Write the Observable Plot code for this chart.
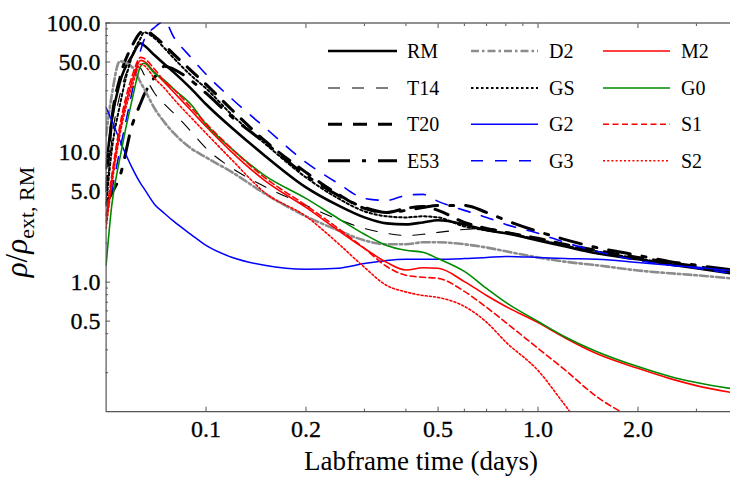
<!DOCTYPE html>
<html><head><meta charset="utf-8">
<script src="https://cdn.jsdelivr.net/npm/d3@7"></script>
<script src="https://cdn.jsdelivr.net/npm/@observablehq/plot@0.6"></script>
<style>html,body{margin:0;padding:0;background:#fff;overflow:hidden}</style>
</head><body><div id="chart"></div>
<script>
// Labframe time (days)
const t = [0.05, 0.052, 0.055, 0.06, 0.0635, 0.065, 0.07, 0.075, 0.08, 0.09, 0.1, 0.12, 0.15, 0.2, 0.25, 0.3, 0.35, 0.4, 0.45, 0.5, 0.6, 0.7, 0.8, 1.0, 1.2, 1.5, 2, 2.5, 3, 3.8];

// rho / rho_ext,RM for each model
const RM  = [7.55, 17.7, 34.8, 56.3, 69.7, 67.3, 56.3, 48.0, 41.6, 31.3, 23.6, 15.4, 9.51, 5.39, 3.91, 3.16, 2.84, 2.79, 2.89, 3.00, 2.79, 2.51, 2.38, 2.10, 1.89, 1.67, 1.50, 1.37, 1.28, 1.17];
const T14 = [4.27, 12.4, 27.7, 47.1, 44.7, 40.2, 28.7, 23.6, 20.1, 14.6, 10.8, 7.55, 5.48, 3.91, 3.05, 2.60, 2.38, 2.29, 2.34, 2.42, 2.55, 2.60, 2.46, 2.14, 1.92, 1.70, 1.52, 1.39, 1.30, 1.19];
const T20 = [5.11, 17.7, 37.4, 67.3, 84.8, 87.8, 78.9, 67.3, 57.3, 43.1, 33.6, 21.2, 12.4, 7.03, 4.76, 3.71, 3.45, 3.71, 3.84, 3.58, 2.89, 2.60, 2.42, 2.18, 1.96, 1.76, 1.55, 1.42, 1.32, 1.21];
const E53 = [4.05, 4.84, 6.55, 16.5, 24.0, 27.7, 38.1, 46.3, 43.9, 36.1, 28.7, 18.7, 12.0, 6.67, 4.67, 3.77, 3.45, 3.58, 3.77, 3.91, 3.91, 3.45, 3.00, 2.46, 2.14, 1.85, 1.61, 1.44, 1.35, 1.25];
const D2  = [13.6, 27.7, 50.6, 45.5, 34.8, 31.3, 21.9, 17.1, 14.1, 10.8, 9.18, 7.03, 4.84, 3.22, 2.51, 2.10, 1.96, 1.96, 2.03, 2.03, 1.96, 1.85, 1.73, 1.55, 1.44, 1.35, 1.23, 1.17, 1.13, 1.07];
const GS  = [3.91, 10.4, 23.1, 56.3, 76.2, 84.8, 76.2, 63.8, 53.4, 39.5, 31.3, 19.4, 11.8, 6.43, 4.43, 3.52, 3.22, 3.16, 3.22, 3.16, 2.69, 2.51, 2.38, 2.14, 1.92, 1.73, 1.52, 1.39, 1.30, 1.19];
const G2  = [22.3, 17.7, 12.4, 7.55, 5.78, 5.29, 3.98, 3.39, 2.94, 2.34, 1.92, 1.55, 1.35, 1.26, 1.28, 1.39, 1.47, 1.50, 1.50, 1.50, 1.52, 1.55, 1.58, 1.55, 1.52, 1.50, 1.42, 1.35, 1.30, 1.23];
const G3  = [3.27, 5.11, 10.4, 30.2, 61.5, 73.5, 92.6, 103, 77.6, 54.3, 40.2, 25.8, 15.7, 8.40, 5.78, 4.43, 4.27, 4.67, 4.76, 4.20, 3.58, 3.16, 2.79, 2.38, 2.03, 1.73, 1.47, 1.35, 1.28, 1.17];
const M2  = [2.89, 6.10, 14.8, 36.1, 51.5, 50.6, 41.6, 34.8, 29.2, 21.2, 15.9, 10.0, 6.10, 3.77, 2.51, 1.82, 1.42, 1.24, 1.29, 1.28, 1.01, 0.789, 0.649, 0.488, 0.374, 0.281, 0.216, 0.180, 0.159, 0.141];
const G0  = [1.35, 3.91, 9.02, 26.2, 46.3, 48.9, 40.9, 36.1, 30.8, 23.6, 16.5, 10.6, 6.67, 4.43, 3.10, 2.34, 1.92, 1.76, 1.70, 1.52, 1.21, 0.894, 0.697, 0.497, 0.381, 0.292, 0.223, 0.187, 0.168, 0.151];
const S1  = [3.27, 6.67, 16.2, 39.5, 54.3, 53.4, 43.9, 35.5, 30.8, 22.3, 16.8, 10.6, 6.43, 3.91, 2.60, 1.82, 1.32, 1.13, 1.09, 1.07, 0.848, 0.638, 0.488, 0.308, 0.212, 0.131, 0.0855, null, null, null];
const S2  = [2.60, 5.58, 13.6, 33.0, 48.0, 47.1, 37.4, 31.3, 25.8, 18.7, 14.1, 8.71, 4.93, 3.22, 1.99, 1.30, 0.943, 0.840, 0.789, 0.762, 0.650, 0.490, 0.345, 0.208, 0.114, 0.054, null, null, null, null];

const names = ["RM", "T14", "T20", "E53", "D2", "GS", "G2", "G3", "M2", "G0", "S1", "S2"];
const values = [RM, T14, T20, E53, D2, GS, G2, G3, M2, G0, S1, S2];

// axis ticks
const xDomain = [0.05, 3.8];
const yDomain = [0.1, 100];
const xMajor = [0.1, 0.2, 0.5, 1, 2];
const xMinor = [0.3, 0.4, 0.6, 0.7, 0.8, 0.9, 3];
const yMajor = [0.5, 1, 5, 10, 50, 100];
const yMinor = [0.2, 0.3, 0.4, 0.6, 0.7, 0.8, 0.9, 2, 3, 4, 6, 7, 8, 9, 20, 30, 40, 60, 70, 80, 90];

const styles = {
  RM:  {stroke: "#000", strokeWidth: 2.6},
  T14: {stroke: "#000", strokeWidth: 1.1, strokeDasharray: "12,12"},
  T20: {stroke: "#000", strokeWidth: 3, strokeDasharray: "14,11"},
  E53: {stroke: "#000", strokeWidth: 3, strokeDasharray: "22,12,4,12"},
  D2:  {stroke: "#8c8c8c", strokeWidth: 2.6, strokeDasharray: "8,3,2.5,3"},
  GS:  {stroke: "#000", strokeWidth: 2, strokeDasharray: "2.5,2.5"},
  G2:  {stroke: "#0000ff", strokeWidth: 1.5},
  G3:  {stroke: "#0000ff", strokeWidth: 1.6, strokeDasharray: "12,12"},
  M2:  {stroke: "#ff0000", strokeWidth: 1.6},
  G0:  {stroke: "#008a00", strokeWidth: 1.6},
  S1:  {stroke: "#ff0000", strokeWidth: 1.6, strokeDasharray: "6,3.5"},
  S2:  {stroke: "#ff0000", strokeWidth: 1.6, strokeDasharray: "2,2.2"}
};

const FONT = "Liberation Serif, Times New Roman, DejaVu Serif, serif";
const axisColor = "#555";
const fmt = d3.format(".1f");

const lineMarks = names.map((name, k) => {
  const rows = t.map((tt, i) => ({t: tt, v: values[k][i]})).filter(d => d.v != null);
  return Plot.line(rows, {x: "t", y: "v", curve: "monotone-x", clip: true, strokeLinejoin: "round", ...styles[name]});
});

const chart = Plot.plot({
  width: 730,
  height: 477,
  marginLeft: 105.6,
  marginRight: 0,
  marginTop: 22.5,
  marginBottom: 65.8,
  style: {fontFamily: FONT, fontSize: "24px", background: "#fff", color: "#000"},
  x: {type: "log", domain: xDomain, label: null},
  y: {type: "log", domain: yDomain, label: null},
  marks: [
    ...lineMarks,
    Plot.ruleX([xDomain[0]], {stroke: axisColor, strokeWidth: 1.2}),
    Plot.ruleY([yDomain[0]], {stroke: axisColor, strokeWidth: 1.2}),
    Plot.ruleY([yDomain[1]], {stroke: "#222", strokeWidth: 1.2}),
    Plot.axisX(xMajor, {anchor: "bottom", tickSize: -4.5, fill: "none", stroke: axisColor}),
    Plot.axisX(xMinor, {anchor: "bottom", tickSize: -2.5, fill: "none", stroke: axisColor}),
    Plot.axisX(xMajor, {anchor: "top", tickSize: -4.5, fill: "none", stroke: axisColor}),
    Plot.axisX(xMinor, {anchor: "top", tickSize: -2.5, fill: "none", stroke: axisColor}),
    Plot.axisY(yMajor, {anchor: "left", tickSize: -4.5, fill: "none", stroke: axisColor}),
    Plot.axisY(yMinor, {anchor: "left", tickSize: -2.5, fill: "none", stroke: axisColor}),
    Plot.text(xMajor, {x: d => d, text: fmt, frameAnchor: "bottom", lineAnchor: "top", dy: 8.5, fontSize: 24, fill: "#000", stroke: "#000", strokeWidth: 0.3}),
    Plot.text(yMajor, {y: d => d, text: fmt, frameAnchor: "left", textAnchor: "end", dx: -5.6, fontSize: 24, fill: "#000", stroke: "#000", strokeWidth: 0.3})
  ]
});

document.getElementById("chart").appendChild(chart);

// legend and axis titles
const svg = d3.select(chart);
const colLineX1 = [328, 471, 603], colLineX2 = [397, 538, 670], colLabelX = [407, 549, 681];
const rowY = [51, 88, 124.3, 160.7];
const leg = svg.append("g").attr("font-family", FONT).attr("font-size", 20).attr("text-anchor", "start");
names.forEach((name, i) => {
  const c = Math.floor(i / 4), r = i % 4;
  const s = styles[name];
  leg.append("line")
    .attr("x1", colLineX1[c]).attr("x2", colLineX2[c])
    .attr("y1", rowY[r]).attr("y2", rowY[r])
    .attr("stroke", s.stroke).attr("stroke-width", s.strokeWidth)
    .attr("stroke-dasharray", s.strokeDasharray || null);
  leg.append("text").attr("x", colLabelX[c]).attr("y", rowY[r]).attr("dy", "0.34em")
    .attr("text-anchor", "start").attr("fill", "#000").text(name);
});

svg.append("text")
  .attr("x", 421).attr("y", 470)
  .attr("text-anchor", "middle")
  .attr("font-family", FONT).attr("font-size", 27)
  .attr("fill", "#000")
  .text("Labframe time (days)");

const yl = svg.append("text")
  .attr("transform", "translate(27,222) rotate(-90)")
  .attr("text-anchor", "middle")
  .attr("font-family", FONT).attr("font-size", 31)
  .attr("fill", "#000");
yl.append("tspan").attr("font-style", "italic").text("ρ");
yl.append("tspan").text("/");
yl.append("tspan").attr("font-style", "italic").text("ρ");
yl.append("tspan").attr("font-size", 22).attr("dy", 7).text("ext, RM");
</script>
</body></html>
